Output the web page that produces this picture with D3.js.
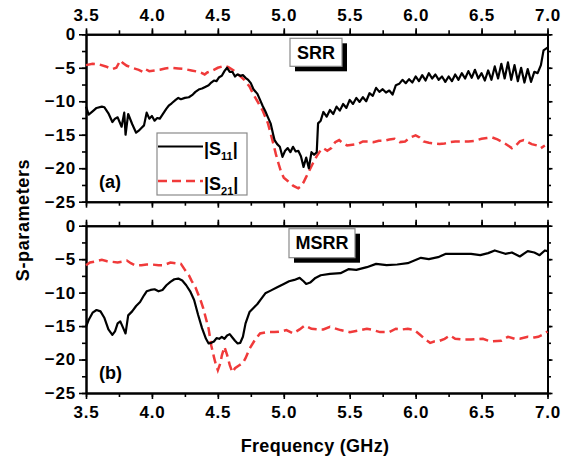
<!DOCTYPE html>
<html>
<head>
<meta charset="utf-8">
<script src="https://cdn.jsdelivr.net/npm/d3@7"></script>
<style>
  body { margin: 0; background: #fff; }
  svg text { font-family: "Liberation Sans", Arial, sans-serif; font-weight: bold; fill: #000; }
  .axis path, .axis line { stroke: #000; stroke-width: 2; }
  .axis .tick line { stroke-width: 1.6; }
</style>
</head>
<body>
<svg id="chart" width="565" height="459"></svg>
<script>
// frequency ticks (GHz) and dB ticks
const freqTicks = [3.5, 4.0, 4.5, 5.0, 5.5, 6.0, 6.5, 7.0];
const dbTicks = [0, -5, -10, -15, -20, -25];

// (a) SRR, [frequency, dB]
const srrS11 = [[3.50,-10.8],[3.52,-12.0],[3.55,-11.5],[3.58,-11.0],[3.62,-10.8],[3.64,-10.9],[3.67,-11.8],[3.70,-13.1],[3.72,-12.6],[3.74,-12.4],[3.77,-13.8],[3.79,-11.7],[3.80,-15.0],[3.82,-11.9],[3.85,-13.4],[3.88,-14.7],[3.90,-14.4],[3.92,-14.0],[3.94,-13.6],[3.96,-11.7],[3.98,-12.6],[4.00,-12.2],[4.02,-12.9],[4.04,-12.5],[4.06,-12.6],[4.08,-12.0],[4.11,-11.1],[4.13,-10.6],[4.15,-10.3],[4.18,-9.8],[4.20,-9.5],[4.22,-9.7],[4.25,-9.5],[4.28,-9.4],[4.31,-9.0],[4.33,-8.6],[4.36,-8.2],[4.38,-8.1],[4.40,-7.9],[4.43,-7.6],[4.45,-7.2],[4.47,-6.9],[4.49,-7.0],[4.51,-6.4],[4.53,-6.2],[4.55,-5.5],[4.57,-5.0],[4.59,-5.6],[4.61,-5.6],[4.63,-6.3],[4.65,-6.0],[4.67,-6.2],[4.69,-6.1],[4.71,-6.5],[4.73,-6.8],[4.75,-7.3],[4.77,-8.2],[4.80,-8.9],[4.82,-9.8],[4.84,-10.7],[4.86,-11.5],[4.88,-12.4],[4.90,-13.3],[4.92,-15.0],[4.93,-15.8],[4.95,-16.4],[4.97,-16.8],[4.99,-18.3],[5.01,-17.4],[5.03,-17.0],[5.05,-17.6],[5.07,-16.8],[5.09,-17.5],[5.11,-17.4],[5.13,-18.2],[5.15,-19.8],[5.17,-18.4],[5.19,-20.0],[5.21,-17.6],[5.23,-18.0],[5.25,-17.6],[5.26,-13.3],[5.28,-12.9],[5.30,-11.6],[5.325,-12.3],[5.35,-11.3],[5.375,-11.9],[5.40,-10.8],[5.425,-11.4],[5.45,-10.4],[5.475,-11.0],[5.50,-9.8],[5.525,-10.4],[5.55,-9.5],[5.575,-10.1],[5.60,-9.4],[5.625,-10.0],[5.65,-8.8],[5.675,-9.2],[5.70,-8.0],[5.725,-8.6],[5.75,-8.2],[5.775,-8.7],[5.80,-8.4],[5.825,-9.0],[5.85,-7.6],[5.875,-7.4],[5.90,-6.8],[5.925,-7.3],[5.95,-6.7],[5.975,-7.2],[6.00,-6.3],[6.025,-7.0],[6.05,-6.1],[6.075,-6.9],[6.10,-5.8],[6.125,-6.6],[6.15,-6.0],[6.175,-6.8],[6.20,-6.3],[6.225,-7.1],[6.25,-6.3],[6.275,-7.0],[6.30,-6.0],[6.325,-6.8],[6.35,-5.8],[6.375,-6.6],[6.40,-5.5],[6.425,-6.5],[6.45,-5.3],[6.475,-6.6],[6.50,-5.8],[6.525,-6.9],[6.55,-5.4],[6.575,-6.8],[6.60,-4.8],[6.625,-6.6],[6.65,-4.4],[6.675,-6.6],[6.70,-4.2],[6.725,-6.8],[6.75,-4.6],[6.775,-7.0],[6.80,-5.0],[6.825,-7.2],[6.85,-5.2],[6.875,-7.1],[6.90,-5.6],[6.925,-5.8],[6.95,-4.6],[6.97,-2.4],[7.00,-2.0]];
const srrS21 = [[3.50,-4.6],[3.55,-4.4],[3.60,-4.5],[3.65,-4.8],[3.70,-5.2],[3.73,-5.0],[3.76,-3.9],[3.78,-4.3],[3.81,-4.7],[3.85,-5.0],[3.90,-5.3],[3.93,-5.6],[3.95,-5.2],[3.98,-5.5],[4.02,-5.4],[4.06,-5.3],[4.10,-5.1],[4.15,-5.0],[4.20,-5.1],[4.25,-5.2],[4.30,-5.4],[4.35,-5.6],[4.38,-5.8],[4.40,-6.0],[4.42,-5.7],[4.46,-5.4],[4.50,-5.0],[4.55,-4.7],[4.58,-4.9],[4.62,-5.4],[4.66,-6.1],[4.70,-6.8],[4.74,-7.8],[4.77,-9.0],[4.80,-10.0],[4.84,-11.4],[4.88,-13.3],[4.90,-14.8],[4.92,-16.3],[4.94,-17.9],[4.96,-19.3],[4.98,-20.6],[5.00,-21.4],[5.03,-21.9],[5.07,-22.6],[5.11,-23.0],[5.13,-22.7],[5.15,-22.1],[5.17,-21.3],[5.19,-20.5],[5.22,-19.3],[5.25,-18.2],[5.28,-17.3],[5.30,-17.0],[5.33,-17.4],[5.36,-17.0],[5.39,-16.1],[5.42,-15.8],[5.45,-16.3],[5.48,-16.6],[5.52,-16.5],[5.56,-16.4],[5.60,-16.0],[5.64,-16.0],[5.68,-16.1],[5.72,-15.9],[5.76,-15.9],[5.80,-15.7],[5.84,-15.6],[5.88,-16.1],[5.92,-16.0],[5.96,-15.4],[6.00,-15.1],[6.03,-15.4],[6.06,-16.0],[6.10,-16.2],[6.14,-16.3],[6.18,-16.4],[6.22,-16.3],[6.26,-16.1],[6.30,-16.0],[6.35,-16.0],[6.40,-16.0],[6.45,-15.9],[6.50,-15.6],[6.54,-15.5],[6.58,-15.4],[6.62,-15.7],[6.66,-16.1],[6.70,-16.6],[6.73,-17.0],[6.76,-16.6],[6.79,-16.0],[6.82,-15.8],[6.85,-16.1],[6.88,-16.4],[6.92,-16.6],[6.95,-17.0],[6.98,-16.6]];

// (b) MSRR, [frequency, dB]
const msrrS11 = [[3.50,-15.1],[3.52,-14.1],[3.55,-13.0],[3.58,-12.6],[3.61,-12.8],[3.64,-13.8],[3.67,-15.5],[3.70,-16.3],[3.72,-15.8],[3.74,-14.6],[3.76,-14.3],[3.78,-15.2],[3.80,-16.1],[3.82,-13.4],[3.85,-12.8],[3.88,-12.0],[3.91,-11.4],[3.94,-10.4],[3.96,-9.8],[3.99,-9.6],[4.02,-9.5],[4.05,-9.8],[4.08,-9.6],[4.11,-8.9],[4.14,-8.4],[4.17,-8.0],[4.20,-7.9],[4.23,-8.2],[4.26,-8.9],[4.29,-9.8],[4.32,-11.1],[4.35,-13.3],[4.38,-15.3],[4.41,-16.9],[4.43,-17.6],[4.45,-17.5],[4.47,-17.3],[4.49,-16.8],[4.51,-16.9],[4.53,-16.6],[4.55,-16.9],[4.57,-16.4],[4.59,-16.2],[4.61,-16.7],[4.63,-17.2],[4.65,-17.6],[4.67,-17.5],[4.69,-16.6],[4.71,-14.6],[4.74,-12.9],[4.77,-12.3],[4.80,-11.7],[4.83,-10.9],[4.86,-10.1],[4.90,-9.7],[4.95,-9.2],[5.00,-8.7],[5.04,-8.3],[5.08,-8.1],[5.12,-7.8],[5.15,-8.3],[5.17,-8.7],[5.20,-8.5],[5.24,-7.8],[5.28,-7.4],[5.35,-7.2],[5.43,-7.1],[5.49,-6.5],[5.55,-6.6],[5.63,-6.2],[5.70,-5.7],[5.78,-5.9],[5.86,-5.8],[5.94,-5.6],[5.99,-5.2],[6.04,-4.8],[6.10,-5.0],[6.17,-4.7],[6.23,-4.2],[6.32,-4.2],[6.42,-4.2],[6.49,-4.4],[6.55,-4.1],[6.60,-3.7],[6.68,-4.2],[6.73,-4.0],[6.79,-4.6],[6.85,-3.8],[6.90,-4.0],[6.94,-4.4],[6.98,-3.7],[7.00,-3.8]];
const msrrS21 = [[3.50,-5.9],[3.53,-5.5],[3.58,-5.3],[3.62,-5.1],[3.66,-5.3],[3.70,-5.4],[3.74,-5.5],[3.77,-5.4],[3.81,-5.2],[3.84,-5.6],[3.87,-5.9],[3.92,-5.9],[3.96,-5.8],[4.00,-5.8],[4.05,-5.9],[4.09,-5.9],[4.14,-5.5],[4.18,-5.6],[4.22,-5.7],[4.25,-6.6],[4.28,-7.4],[4.30,-8.2],[4.33,-9.2],[4.35,-10.2],[4.37,-11.2],[4.39,-12.4],[4.41,-13.9],[4.43,-15.4],[4.45,-17.9],[4.47,-19.6],[4.48,-20.4],[4.50,-21.6],[4.52,-20.5],[4.53,-19.4],[4.55,-18.1],[4.57,-19.3],[4.59,-20.8],[4.61,-21.9],[4.63,-21.3],[4.66,-20.9],[4.69,-20.5],[4.71,-19.8],[4.74,-18.4],[4.78,-17.1],[4.82,-16.1],[4.87,-15.9],[4.93,-15.9],[4.98,-15.8],[5.02,-15.6],[5.07,-16.1],[5.12,-15.5],[5.16,-14.9],[5.21,-15.4],[5.26,-15.5],[5.30,-15.5],[5.35,-15.1],[5.43,-15.6],[5.50,-15.9],[5.58,-15.6],[5.63,-15.4],[5.68,-15.6],[5.73,-15.9],[5.80,-15.9],[5.85,-15.4],[5.90,-15.5],[5.94,-15.4],[5.99,-15.6],[6.04,-16.4],[6.08,-17.1],[6.11,-17.5],[6.14,-17.3],[6.17,-17.3],[6.22,-16.9],[6.26,-16.4],[6.30,-16.9],[6.35,-17.0],[6.42,-17.0],[6.51,-16.9],[6.57,-17.3],[6.65,-17.2],[6.70,-16.6],[6.75,-16.9],[6.79,-16.9],[6.85,-16.6],[6.90,-16.7],[6.93,-16.6],[6.97,-16.2],[7.00,-15.8]];

const red = "#f03a3a";
const svg = d3.select("#chart");

const x = d3.scaleLinear().domain([3.5, 7.0]).range([86, 547.5]);
const minorX = d3.range(3.5, 7.01, 0.25);
const minorY = d3.range(0, -25.01, -2.5);

function panel(top, bottom, s11, s21, tag, name, labelTop, labelBottom, nameBox) {
  const y = d3.scaleLinear().domain([0, -25]).range([top, bottom]);
  const g = svg.append("g");

  const addAxis = (axis, tf, values, size, fmt, pad) => {
    g.append("g").attr("class", "axis").attr("transform", tf)
      .call(axis.tickValues(values).tickSize(size).tickSizeOuter(0)
        .tickPadding(pad || 3).tickFormat(fmt));
  };
  // minor ticks first, majors on top
  addAxis(d3.axisTop(x), `translate(0,${top})`, minorX, 4, "");
  addAxis(d3.axisBottom(x), `translate(0,${bottom})`, minorX, 4, "");
  addAxis(d3.axisLeft(y), `translate(${x.range()[0]},0)`, minorY, 4, "");
  addAxis(d3.axisLeft(y), `translate(${x.range()[1]},0)`, minorY, -3.5, "");

  const fx = d3.format(".1f");
  addAxis(d3.axisTop(x), `translate(0,${top})`, freqTicks, 6, labelTop ? fx : "", 7.6);
  addAxis(d3.axisBottom(x), `translate(0,${bottom})`, freqTicks, 6, labelBottom ? fx : "", 7);
  addAxis(d3.axisLeft(y), `translate(${x.range()[0]},0)`, dbTicks, 7, d3.format("d"), 3);
  addAxis(d3.axisLeft(y), `translate(${x.range()[1]},0)`, dbTicks, -5, "");

  g.selectAll(".axis text").style("font-size", "17px").style("letter-spacing", "0.8px");

  const line = d3.line().x(d => x(d[0])).y(d => y(d[1]));
  g.append("path").datum(s21).attr("d", line)
    .attr("fill", "none").attr("stroke", red).attr("stroke-width", 2.5)
    .attr("stroke-dasharray", "9,5");
  g.append("path").datum(s11).attr("d", line)
    .attr("fill", "none").attr("stroke", "#000").attr("stroke-width", 2.2)
    .attr("stroke-linejoin", "round");

  // name box with drop shadow
  g.append("rect").attr("x", nameBox[0] + 5).attr("y", top + nameBox[1] + 5)
    .attr("width", nameBox[2]).attr("height", nameBox[3]).attr("fill", "#000");
  g.append("rect").attr("x", nameBox[0]).attr("y", top + nameBox[1])
    .attr("width", nameBox[2]).attr("height", nameBox[3])
    .attr("fill", "#fff").attr("stroke", "#8a8a8a").attr("stroke-width", 1.2);
  g.append("text").attr("x", nameBox[0] + nameBox[2] / 2).attr("y", top + nameBox[1] + 20.5)
    .attr("text-anchor", "middle").style("font-size", "18px").text(name);

  g.append("text").attr("x", 99).attr("y", y(-22.9)).style("font-size", "18px").text(tag);
  return y;
}

panel(34.3, 201.7, srrS11, srrS21, "(a)", "SRR", true, false, [290, 4, 52, 28]);
panel(225.7, 393, msrrS11, msrrS21, "(b)", "MSRR", false, true, [289, 3, 66, 29]);

// legend in panel (a)
const leg = svg.append("g");
leg.append("rect").attr("x", 157).attr("y", 133).attr("width", 90).attr("height", 62)
  .attr("fill", "#fff").attr("stroke", "#8a8a8a").attr("stroke-width", 1.2);
const legItems = [
  { sub: "11", color: "#000", dash: null, yy: 146.5 },
  { sub: "21", color: red, dash: "9,5", yy: 181 }
];
legItems.forEach(it => {
  leg.append("line").attr("x1", 158).attr("x2", 203).attr("y1", it.yy).attr("y2", it.yy)
    .attr("stroke", it.color).attr("stroke-width", it.dash ? 2.5 : 2.2)
    .attr("stroke-dasharray", it.dash);
  const t = leg.append("text").attr("x", 204).attr("y", it.yy + 8.5).style("font-size", "18px");
  t.append("tspan").text("|S");
  t.append("tspan").attr("dy", 5).style("font-size", "11px").text(it.sub);
  t.append("tspan").attr("dy", -5).text("|");
});

// axis titles
svg.append("text").attr("x", 315).attr("y", 452).attr("text-anchor", "middle")
  .style("font-size", "18px").style("letter-spacing", "0.3px").text("Frequency (GHz)");
svg.append("text").attr("transform", "translate(29,220) rotate(-90)").attr("text-anchor", "middle")
  .style("font-size", "18px").style("letter-spacing", "0.6px").text("S-parameters");
</script>
</body>
</html>
